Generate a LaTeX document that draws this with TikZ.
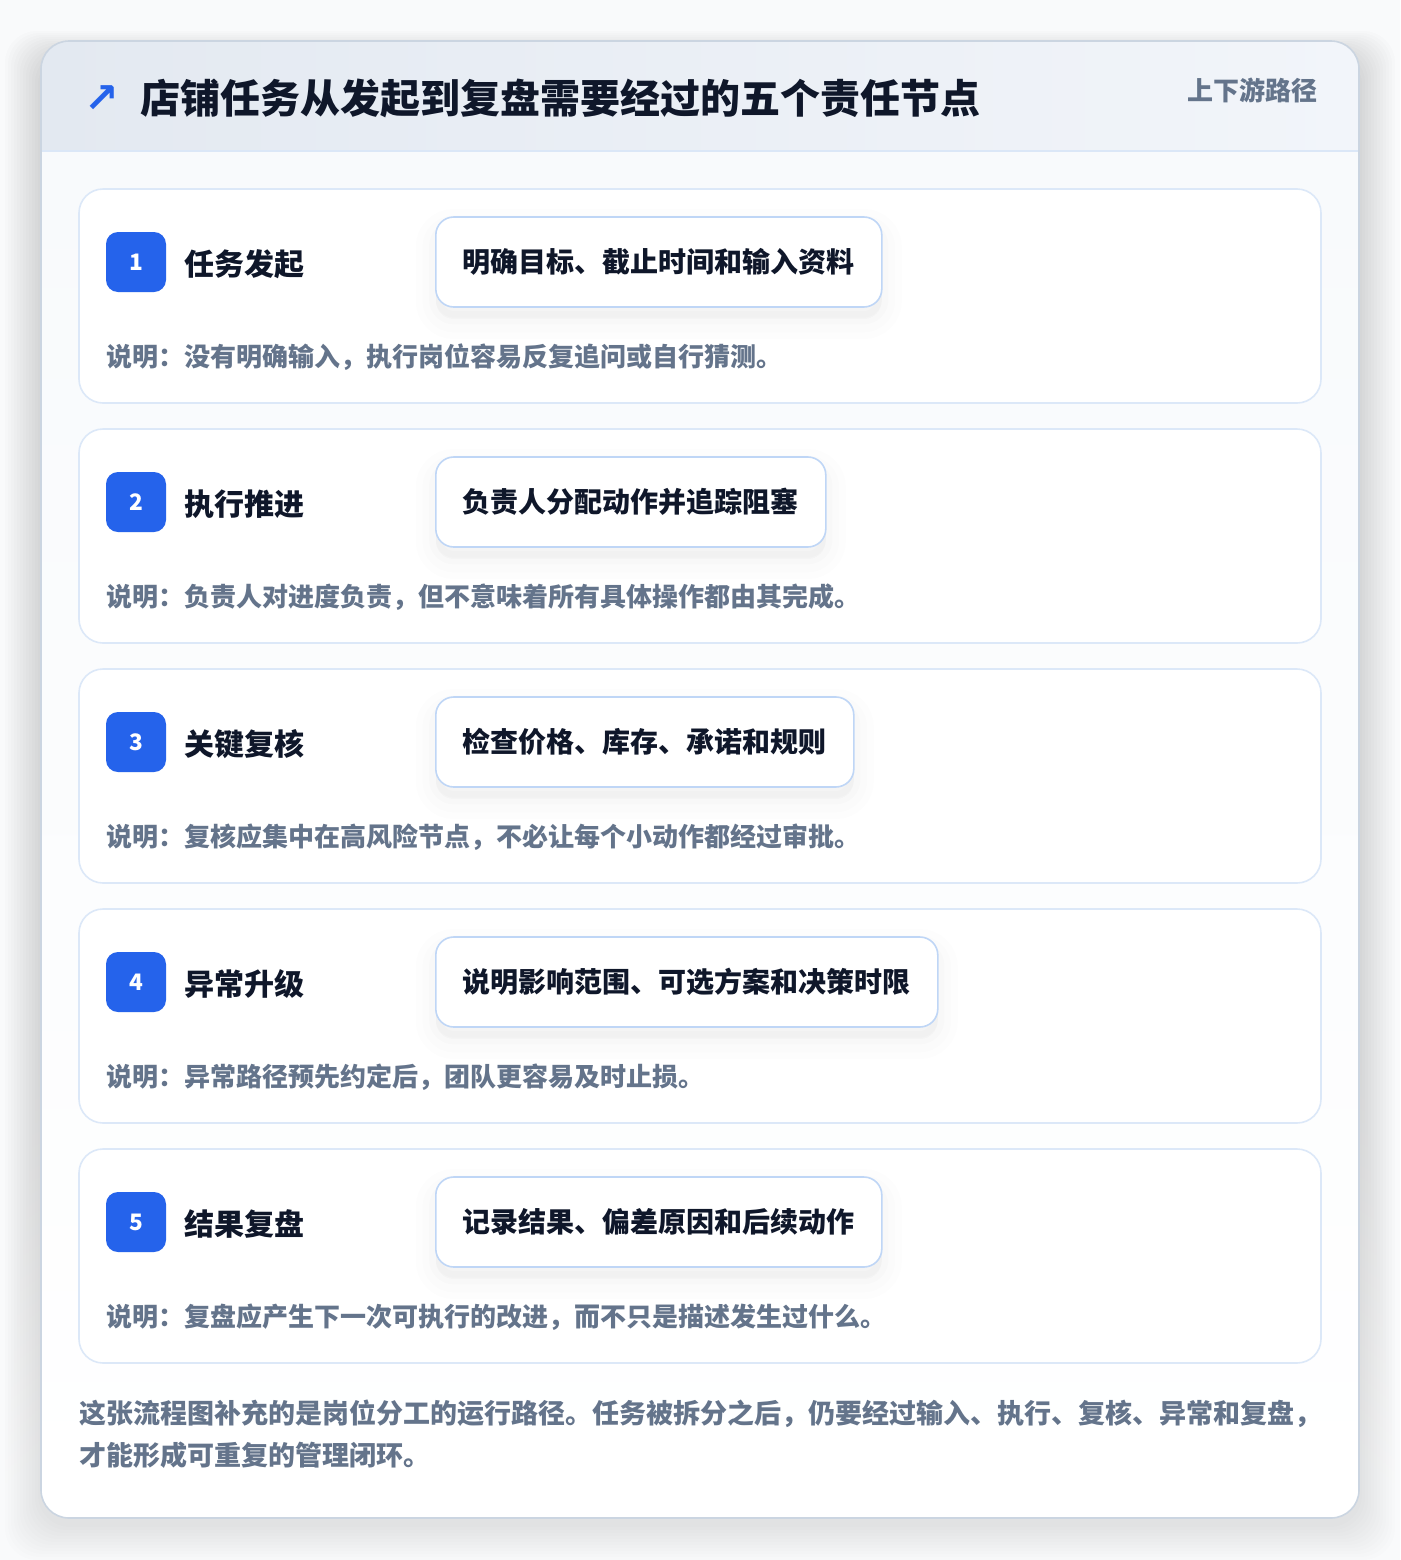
\documentclass[tikz,border=0pt]{standalone}
\usepackage{fontspec}
\setmainfont{Noto Sans CJK SC}
\newfontfamily\arrowfont{DejaVu Sans}

\definecolor{accent}{HTML}{2563EB}
\definecolor{ink}{HTML}{0F172A}
\definecolor{slate}{HTML}{64748B}
\definecolor{cardline}{HTML}{DCE8F8}
\definecolor{chipline}{HTML}{BFD6F6}
\definecolor{frameline}{HTML}{CBD5E1}
\definecolor{hdrleft}{HTML}{E3E9F1}
\definecolor{hdrright}{HTML}{F2F5FA}
\definecolor{hdrline}{HTML}{DBE7F7}
\definecolor{bodytop}{HTML}{F8FAFC}
\definecolor{pagebg}{HTML}{F9FAFB}
\definecolor{shade}{HTML}{1E293B}

\tikzset{
  stagecard/.style={draw=cardline, fill=white, line width=1.2pt, rounded corners=18pt,
    minimum width=931.5pt, minimum height=160.5pt},
  numbadge/.style={fill=accent, rounded corners=9pt, minimum size=45pt, inner sep=0pt,
    text=white, font=\bfseries\fontsize{17}{17}\selectfont},
  stagename/.style={anchor=west, inner sep=0pt, text=ink,
    font=\bfseries\fontsize{22.5}{22.5}\selectfont},
  chipbox/.style={anchor=west, draw=chipline, fill=white, line width=1.2pt,
    rounded corners=13.5pt, minimum height=67.5pt, inner xsep=20.25pt, text=ink,
    font=\bfseries\fontsize{21}{21}\selectfont,
    preaction={draw=shade, fill=shade, line width=30pt, opacity=0.006, transform canvas={yshift=-9pt}},
    preaction={draw=shade, fill=shade, line width=20pt, opacity=0.008, transform canvas={yshift=-9pt}},
    preaction={draw=shade, fill=shade, line width=10pt, opacity=0.01, transform canvas={yshift=-8pt}}},
  notetext/.style={anchor=west, inner sep=0pt, text=slate,
    font=\bfseries\fontsize{19.5}{19.5}\selectfont}
}

\begin{document}
\begin{tikzpicture}[x=0.75pt,y=-0.75pt]
\useasboundingbox (0,0) rectangle (1400,1560);
\fill[pagebg] (0,0) rectangle (1400,1560);

% soft shadow of the frame
\foreach \k in {1,...,12}
  \fill[shade, opacity=0.007, rounded corners=24pt]
    (41-3*\k,41-2*\k+14) rectangle (1359+3*\k,1518+3*\k+6);

% frame, header band and body
\begin{scope}
  \clip[rounded corners=21pt] (41,41) rectangle (1359,1518);
  \shade[top color=bodytop, bottom color=white] (41,151) rectangle (1359,1518);
  \shade[left color=hdrleft, right color=hdrright] (41,41) rectangle (1359,151);
  \draw[hdrline, line width=1.2pt] (41,151) -- (1359,151);
\end{scope}
\draw[frameline, line width=1.2pt, rounded corners=21pt] (41,41) rectangle (1359,1518);

\node[text=accent, font=\arrowfont\bfseries\fontsize{31}{31}\selectfont] (arrow) at (102,99) {↗};
\node[anchor=west, inner sep=0pt, text=ink, font=\bfseries\fontsize{30}{30}\selectfont]
  (title) at (140,98) {店铺任务从发起到复盘需要经过的五个责任节点};
\node[anchor=east, inner sep=0pt, text=slate, font=\bfseries\fontsize{19.5}{19.5}\selectfont]
  (tag) at (1318,90) {上下游路径};

% five stages
\foreach \i/\stage/\task/\hint in {
  1/任务发起/明确目标、截止时间和输入资料/说明：没有明确输入，执行岗位容易反复追问或自行猜测。,
  2/执行推进/负责人分配动作并追踪阻塞/说明：负责人对进度负责，但不意味着所有具体操作都由其完成。,
  3/关键复核/检查价格、库存、承诺和规则/说明：复核应集中在高风险节点，不必让每个小动作都经过审批。,
  4/异常升级/说明影响范围、可选方案和决策时限/说明：异常路径预先约定后，团队更容易及时止损。,
  5/结果复盘/记录结果、偏差原因和后续动作/说明：复盘应产生下一次可执行的改进，而不只是描述发生过什么。}
{
  \pgfmathsetmacro{\ytop}{189+240*(\i-1)}
  \node[stagecard] (card\i) at (700,\ytop+107) {};
  \node[numbadge] (num\i) at (136,\ytop+73) {\i};
  \node[stagename] (stage\i) at (184,\ytop+75) {\stage};
  \node[chipbox] (task\i) at (435,\ytop+73) {\task};
  \node[notetext] (hint\i) at (106,\ytop+168) {\hint};
}

\node[anchor=north west, inner sep=0pt, align=left, text=slate,
  font=\bfseries\fontsize{20.25}{31.5}\selectfont] (summary) at (79,1400)
  {这张流程图补充的是岗位分工的运行路径。任务被拆分之后，仍要经过输入、执行、复核、异常和复盘，\\
   才能形成可重复的管理闭环。};
\end{tikzpicture}
\end{document}
